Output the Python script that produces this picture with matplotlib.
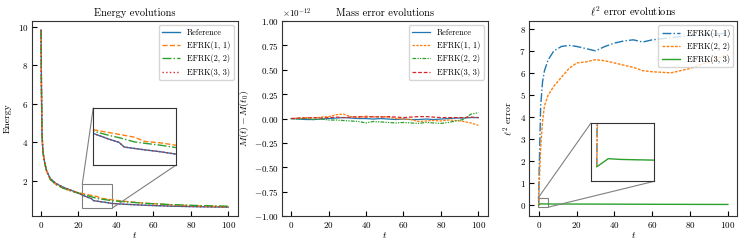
import matplotlib
matplotlib.use("Agg")
import matplotlib.pyplot as plt
import numpy as np
from mpl_toolkits.axes_grid1.inset_locator import mark_inset

plt.rcParams.update({
    "font.family": "serif",
    "font.serif": ["cmr10"],
    "mathtext.fontset": "cm",
    "axes.formatter.use_mathtext": True,
    "axes.unicode_minus": True,
    "font.size": 6.5,
    "xtick.direction": "in",
    "ytick.direction": "in",
    "xtick.major.pad": 3,
    "ytick.major.pad": 2.5,
    "axes.edgecolor": "#333333",
})

# ---------------- Data ----------------
t_energy = [0, 0.2, 0.5, 1, 2, 3, 5, 8, 12, 16, 20, 22, 25, 27, 28, 30, 32, 35, 38, 45, 55, 70, 85, 100]
energy_ref = [9.85, 7.0, 4.5, 3.5, 2.9, 2.5, 2.1, 1.85, 1.65, 1.5, 1.35, 1.25, 1.13, 1.06, 0.96, 0.93, 0.9, 0.86, 0.81, 0.77, 0.72, 0.67, 0.64, 0.62]
energy_11 = [9.85, 7.0, 4.5, 3.5, 2.9, 2.5, 2.05, 1.8, 1.6, 1.47, 1.37, 1.33, 1.27, 1.23, 1.21, 1.17, 1.08, 1.05, 1.0, 0.92, 0.83, 0.74, 0.68, 0.64]
energy_22 = [9.85, 7.0, 4.5, 3.5, 2.9, 2.5, 2.05, 1.8, 1.6, 1.46, 1.35, 1.3, 1.21, 1.16, 1.13, 1.07, 1.04, 1.0, 0.95, 0.9, 0.82, 0.75, 0.7, 0.67]
energy_33 = [9.85, 7.0, 4.5, 3.5, 2.9, 2.5, 2.1, 1.85, 1.65, 1.5, 1.35, 1.25, 1.13, 1.06, 0.96, 0.93, 0.9, 0.86, 0.81, 0.77, 0.72, 0.67, 0.64, 0.62]

t_mass = [0, 4, 8, 12, 16, 20, 24, 28, 32, 36, 40, 44, 48, 52, 56, 60, 64, 68, 72, 76, 80, 84, 88, 92, 96, 100]
mass_ref = [0, -0.005, -0.01, -0.01, -0.005, 0.0, 0.005, 0.01, 0.005, 0.0, 0.0, -0.005, 0.0, -0.005, -0.01, -0.005, -0.01, -0.01, -0.005, -0.01, -0.005, 0.0, 0.005, 0.005, 0.01, 0.01]
mass_11 = [0, 0.005, 0.01, 0.005, 0.015, 0.02, 0.04, 0.045, 0.02, 0.01, 0.025, 0.015, 0.02, 0.015, 0.0, -0.005, -0.01, -0.03, -0.025, -0.02, -0.025, -0.015, -0.02, -0.03, -0.045, -0.07]
mass_22 = [0, -0.005, 0.0, -0.01, -0.005, -0.015, -0.015, -0.02, -0.025, -0.03, -0.045, -0.03, -0.035, -0.04, -0.045, -0.04, -0.045, -0.05, -0.04, -0.045, -0.05, -0.04, -0.025, -0.01, 0.045, 0.06]
mass_33 = [0, 0.005, 0.005, 0.01, 0.005, 0.01, 0.015, 0.01, 0.015, 0.02, 0.015, 0.02, 0.015, 0.02, 0.015, 0.01, 0.015, 0.02, 0.02, 0.015, 0.01, 0.01, 0.01, 0.01, 0.015, 0.01]
mass_scale = 1e-12

t_l2 = [0, 0.1, 1, 2, 3, 5, 8, 12, 16, 20, 25, 30, 35, 40, 45, 50, 55, 60, 70, 80, 90, 100]
l2_11 = [0, 1.2, 4.5, 5.6, 6.1, 6.6, 7.0, 7.2, 7.25, 7.2, 7.1, 7.0, 7.2, 7.35, 7.45, 7.5, 7.4, 7.5, 7.6, 7.7, 7.75, 7.8]
l2_22 = [0, 0.6, 2.6, 3.8, 4.5, 5.0, 5.4, 5.8, 6.2, 6.45, 6.5, 6.6, 6.55, 6.45, 6.35, 6.25, 6.1, 6.05, 6.0, 6.2, 6.5, 6.85]
l2_33 = [0, 0.005, 0.055, 0.05, 0.048, 0.045, 0.044, 0.043, 0.042, 0.042, 0.041, 0.04, 0.039, 0.038, 0.037, 0.035, 0.034, 0.032, 0.03, 0.028, 0.026, 0.025]

energy_labels = ["Reference", "EFRK(1, 1)", "EFRK(2, 2)", "EFRK(3, 3)"]
l2_labels = ["EFRK(1, 1)", "EFRK(2, 2)", "EFRK(3, 3)"]

C0, C1, C2, C3 = "#1f77b4", "#ff7f0e", "#2ca02c", "#d62728"

fig = plt.figure(figsize=(7.47, 2.47), dpi=100)
ax1 = fig.add_axes([0.0424, 0.1255, 0.2758, 0.789])
ax2 = fig.add_axes([0.3771, 0.1255, 0.2758, 0.789])
ax3 = fig.add_axes([0.7086, 0.1255, 0.2784, 0.789])

LEG = dict(loc="upper right", fontsize=6, labelspacing=0.5, borderpad=0.4,
           handlelength=2.2, borderaxespad=0.5)
TITLE = dict(fontsize=7.5, pad=4)


def energy_lines(ax, lw=1.0):
    ax.plot(t_energy, energy_ref, color=C0, ls="-", lw=lw, label=energy_labels[0])
    ax.plot(t_energy, energy_11, color=C1, ls="--", lw=lw, label=energy_labels[1])
    ax.plot(t_energy, energy_22, color=C2, ls="-.", lw=lw, label=energy_labels[2])
    ax.plot(t_energy, energy_33, color=C3, ls=":", lw=lw, label=energy_labels[3])


# Panel 1
energy_lines(ax1)
ax1.set_title("Energy evolutions", **TITLE)
ax1.set_xlabel("$t$", labelpad=0, fontsize=7)
ax1.set_ylabel("Energy", labelpad=4, fontsize=7)
ax1.set_yticks([2, 4, 6, 8, 10])
ax1.legend(**LEG)
ins1 = ax1.inset_axes([0.299, 0.26, 0.40, 0.296])
energy_lines(ins1)
ins1.set_xlim(22, 38)
ins1.set_ylim(0.57, 1.8)
ins1.set_xticks([])
ins1.set_yticks([])
mark_inset(ax1, ins1, loc1=2, loc2=4, fc="none", ec="0.5", lw=0.8)

# Panel 2
sm = lambda v: [x * mass_scale for x in v]
ax2.plot(t_mass, sm(mass_ref), color=C0, ls="-", lw=0.9, label=energy_labels[0])
ax2.plot(t_mass, sm(mass_11), color=C1, ls=(0, (2, 1)), lw=0.9, label=energy_labels[1])
ax2.plot(t_mass, sm(mass_22), color=C2, ls=(0, (3, 1, 1, 1, 1, 1)), lw=0.9, label=energy_labels[2])
ax2.plot(t_mass, sm(mass_33), color=C3, ls=(0, (3, 1.5)), lw=0.9, label=energy_labels[3])
ax2.set_ylim(-1e-12, 1e-12)
ax2.set_yticks(np.arange(-1, 1.01, 0.25) * 1e-12)
ax2.set_title("Mass error evolutions", **TITLE)
ax2.set_xlabel("$t$", labelpad=0, fontsize=7)
ax2.set_ylabel("$M(t)-M(t_0)$", labelpad=2, fontsize=7)
ax2.legend(**LEG)


def l2_lines(ax, lw=1.0):
    ax.plot(t_l2, l2_11, color=C0, ls="-.", lw=lw, label=l2_labels[0])
    ax.plot(t_l2, l2_22, color=C1, ls=(0, (2, 1)), lw=lw, label=l2_labels[1])
    ax.plot(t_l2, l2_33, color=C2, ls="-", lw=lw, label=l2_labels[2])


# Panel 3
l2_lines(ax3)
ax3.set_xlim(-5, 105)
ax3.set_ylim(-0.5, 8.35)
ax3.set_title(r"$\ell^2$ error evolutions", **TITLE)
ax3.set_xlabel("$t$", labelpad=0, fontsize=7)
ax3.set_ylabel(r"$\ell^2$ error", labelpad=3, fontsize=7)
ax3.legend(**LEG)
ins3 = ax3.inset_axes([0.297, 0.178, 0.303, 0.30])
l2_lines(ins3)
ins3.set_xlim(-0.5, 5)
ins3.set_ylim(-0.1, 0.3)
ins3.set_xticks([])
ins3.set_yticks([])
mark_inset(ax3, ins3, loc1=2, loc2=4, fc="none", ec="0.5", lw=0.8)

for ax in (ax1, ax2, ax3):
    ax.tick_params(labelsize=6.5)
    ax.set_xticks([0, 20, 40, 60, 80, 100])
ax2.yaxis.get_offset_text().set_fontsize(6.5)

fig.savefig("out.png", dpi=100)
